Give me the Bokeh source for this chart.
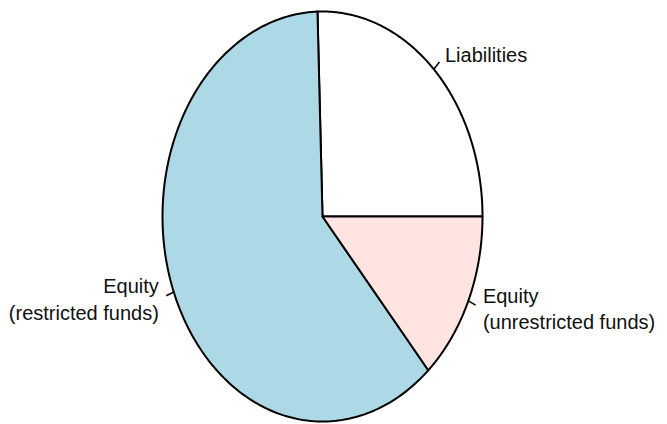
import numpy as np
from bokeh.plotting import figure
from bokeh.models import Range1d
from bokeh.core.properties import value
from bokeh.embed import file_html
from bokeh.resources import INLINE

# data
labels = ["Liabilities", "Equity\n(restricted funds)", "Equity\n(unrestricted funds)"]
shares = [25.5, 61.0, 13.5]
colors = ["#FFFFFF", "#ADD8E6", "#FFE4E1"]

# layout (screen pixel coordinates)
W, H = 667, 424
cx, cy = 322.0, 216.0
rx, ry = 160.0, 205.0

p = figure(width=W, height=H, output_backend="svg", toolbar_location=None,
           x_range=Range1d(0, W), y_range=Range1d(H, 0),
           x_axis_type=None, y_axis_type=None, min_border=0)
p.grid.visible = False
p.outline_line_color = None
p.background_fill_color = "white"

vals = np.array(shares, dtype=float)
frac = np.concatenate([[0.0], np.cumsum(vals) / vals.sum()])
angles = 2 * np.pi * frac  # counter-clockwise from 0 (R default)

xs, ys = [], []
for i in range(len(vals)):
    t = np.linspace(angles[i], angles[i + 1], 200)
    xs.append(np.concatenate([[cx], cx + rx * np.cos(t), [cx]]))
    ys.append(np.concatenate([[cy], cy - ry * np.sin(t), [cy]]))

p.patches(xs, ys, fill_color=colors, line_color="black", line_width=2, line_join="round")

font = value("Liberation Sans")
for i, lab in enumerate(labels):
    mid = (angles[i] + angles[i + 1]) / 2
    c, s = np.cos(mid), np.sin(mid)
    p.segment(x0=[cx + rx * c], y0=[cy - ry * s],
              x1=[cx + 1.05 * rx * c], y1=[cy - 1.05 * ry * s],
              line_color="black", line_width=1.5)
    p.text(x=[cx + 1.1 * rx * c], y=[cy - 1.1 * ry * s], text=[lab],
           text_align="left" if c > 0 else "right", text_baseline="middle",
           text_font=font, text_font_size="20px", text_color="#111111",
           text_line_height=1.2)

open("out.html", "w").write(file_html(p, INLINE))
